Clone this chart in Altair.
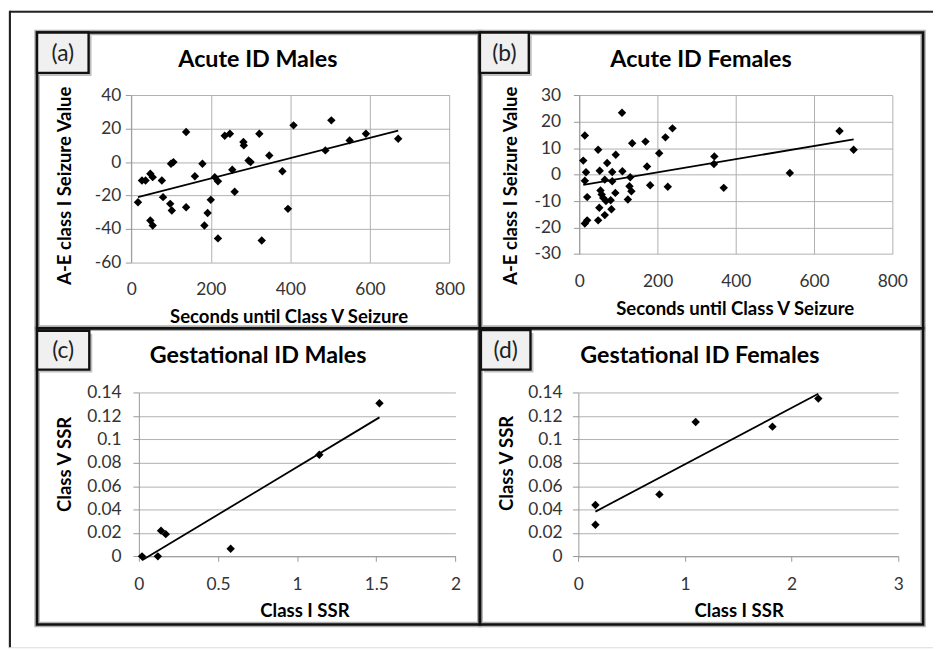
import altair as alt
import pandas as pd

# ---------------- data ----------------
# (a) Acute ID Males
a_x = [17, 27, 36, 48, 54, 77, 80, 48, 54, 98, 102, 100, 106, 138, 138, 160, 179, 184, 192, 200,
       210, 218, 218, 235, 248, 254, 260, 282, 283, 295, 300, 322, 328, 347, 380, 394, 408, 488,
       503, 549, 590, 671]
a_y = [-24, -11, -11, -7, -9, -11, -21, -35, -38, -25, -29, -1, 0, 18, -27, -8.5, -1, -38, -30.5,
       -22.6, -9, -11.5, -45.7, 15.8, 17, -4.6, -17.8, 12, 10, 1, 0, 17, -47, 4, -5.5, -28, 22, 7,
       25, 13, 17, 14]
# (b) Acute ID Females
b_x = [10, 14, 17, 14, 20, 14, 20, 48, 52, 54, 57, 61, 51, 48, 65, 71, 68, 65, 82, 84, 84, 93, 92,
       80, 109, 110, 124, 128, 133, 130, 135, 169, 173, 181, 204, 220, 226, 238, 344, 345, 369,
       538, 665, 701]
b_y = [5.3, 14.8, 0.9, -2.3, -8.5, -18.5, -17.3, 9.4, 1.5, -6, -7.5, -8.8, -12.5, -17.3, -1.9, 4.4,
       -10, -15.3, -13.1, 1, -2.5, 7.5, -6.9, -9.7, 23.4, 1.3, -9.4, -4.4, -6.3, -1, 11.9, 12.5,
       3.1, -4, 8.1, 14.1, -4.6, 17.5, 4, 6.9, -5, 0.6, 16.5, 9.4]
# (c) Gestational ID Males
c_x = [0.02, 0.12, 0.14, 0.17, 0.58, 1.14, 1.52]
c_y = [0, 0, 0.022, 0.019, 0.0065, 0.087, 0.131]
# (d) Gestational ID Females
d_x = [0.16, 0.16, 0.76, 1.10, 1.82, 2.25]
d_y = [0.044, 0.027, 0.053, 0.115, 0.111, 0.135]

acute_xticks = [0, 200, 400, 600, 800]
a_yticks = [-60, -40, -20, 0, 20, 40]
b_yticks = [-30, -20, -10, 0, 10, 20, 30]
c_xticks = [0, 0.5, 1, 1.5, 2]
d_xticks = [0, 1, 2, 3]
gest_yticks = [0, 0.02, 0.04, 0.06, 0.08, 0.1, 0.12, 0.14]

titles = ["Acute ID Males", "Acute ID Females", "Gestational ID Males", "Gestational ID Females"]
tags = ["(a)", "(b)", "(c)", "(d)"]
acute_xtitle = "Seconds until Class V Seizure"
acute_ytitle = "A-E class I Seizure Value"
gest_xtitle = "Class I SSR"
gest_ytitle = "Class V SSR"

# ---------------- styling / layout ----------------
FONT = "Lato"
W, H = 933, 642
GRID = "#b0b0b0"
AXIS = "#999999"
LABEL = "#333333"
one = pd.DataFrame({"k": [0]})


def panel(xs, ys, xdom, ydom, xr, yr, xticks, yticks, xtitle, ytitle,
          xgrid, ylabpad, xlabpad, xt_pos, yt_pos):
    df = pd.DataFrame({"x": xs, "y": ys})
    xscale = alt.Scale(domain=xdom, range=xr, nice=False, zero=False)
    yscale = alt.Scale(domain=ydom, range=yr, nice=False, zero=False)
    common_x = dict(
        values=xticks, gridColor=GRID, domainColor=AXIS, tickColor=AXIS,
        labelExpr="toString(datum.value)", labelFlush=False, labelOverlap=False,
        labelFont=FONT, labelFontSize=17.5, labelColor=LABEL, labelBaseline="top",
        title=xtitle, titleX=xt_pos[0], titleY=xt_pos[1] - yr[0], titleFont=FONT,
        titleFontSize=18.7, titleFontWeight="bold", titleColor="black",
        titleBaseline="middle", titleAlign="center")
    if xgrid:
        # vertical grid lines: a top-oriented axis placed on the plot's bottom edge
        xaxis = alt.Axis(orient="top", offset=-yr[0], grid=True, domain=False, ticks=False,
                         tickSize=0, labelPadding=-xlabpad, **common_x)
    else:
        xaxis = alt.Axis(orient="bottom", offset=yr[0] - H, grid=False, domain=True, ticks=True,
                         tickSize=5, labelPadding=xlabpad - 5, **common_x)
    yaxis = alt.Axis(
        orient="left", offset=-xr[0], values=yticks, grid=True, gridColor=GRID,
        domain=True, domainColor=AXIS, ticks=True, tickColor=AXIS, tickSize=6,
        labelPadding=ylabpad, labelExpr="toString(datum.value)", labelFlush=False,
        labelOverlap=False, labelFont=FONT, labelFontSize=17.5, labelColor=LABEL,
        title=ytitle, titleX=yt_pos[0] - xr[0], titleY=yt_pos[1], titleAngle=270,
        titleFont=FONT, titleFontSize=18.7, titleFontWeight="bold", titleColor="black",
        titleBaseline="middle", titleAlign="center")
    base = alt.Chart(df)
    enc = dict(x=alt.X("x:Q", scale=xscale, axis=xaxis), y=alt.Y("y:Q", scale=yscale, axis=yaxis))
    pts = base.mark_point(shape="diamond", filled=True, size=72, color="black", opacity=1).encode(**enc)
    reg = base.transform_regression("x", "y").mark_line(color="black", strokeWidth=1.8).encode(**enc)
    return alt.layer(pts, reg)


pa = panel(a_x, a_y, [0, 800], [-60, 40], [124.3, 445.3], [253.7, 85.3], acute_xticks, a_yticks,
           acute_xtitle, acute_ytitle, True, 4.5, 19, (283, 308.5), (57, 176))
pb = panel(b_x, b_y, [0, 800], [-30, 30], [576.3, 892], [245.3, 85.3], acute_xticks, b_yticks,
           acute_xtitle, acute_ytitle, True, 13, 19, (733, 300.3), (507, 176))
pc = panel(c_x, c_y, [0, 2], [0, 0.14], [132, 451.3], [550.3, 385.3], c_xticks, gest_yticks,
           gest_xtitle, gest_ytitle, False, 12, 19, (299, 605), (57, 457))
pd_ = panel(d_x, d_y, [0, 3], [0, 0.14], [575.3, 898], [550.3, 385.3], d_xticks, gest_yticks,
            gest_xtitle, gest_ytitle, False, 10.5, 19, (737, 605), (502.7, 456))

# ---------------- decorations ----------------
layers = []
# figure frame (top and left)
layers.append(alt.Chart(one).mark_rule(color="#222", strokeWidth=2).encode(
    x=alt.value(2), x2=alt.value(W), y=alt.value(1)))
layers.append(alt.Chart(one).mark_rule(color="#222", strokeWidth=2).encode(
    x=alt.value(2), y=alt.value(0), y2=alt.value(H)))

boxes = [(29.3, 22, 476, 320.3), (476, 22, 923, 320.3), (29.3, 320.3, 476, 619), (476, 320.3, 923, 619)]
for (x1, y1, x2, y2) in boxes:
    layers.append(alt.Chart(one).mark_rect(filled=False, fillOpacity=0, stroke="#b0b0b0",
                                           strokeWidth=5.5).encode(
        x=alt.value(x1), y=alt.value(y1), x2=alt.value(x2), y2=alt.value(y2)))
for (x1, y1, x2, y2) in boxes:
    layers.append(alt.Chart(one).mark_rect(filled=False, fillOpacity=0, stroke="#111",
                                           strokeWidth=2.6).encode(
        x=alt.value(x1), y=alt.value(y1), x2=alt.value(x2), y2=alt.value(y2)))

title_pos = [(252, 49.5), (699, 49.5), (252.3, 348), (697.8, 348)]
for t, (tx, ty) in zip(titles, title_pos):
    layers.append(alt.Chart(one).mark_text(
        text=t, font=FONT, fontSize=23.5, fontWeight="bold", color="black",
        align="center", baseline="middle").encode(x=alt.value(tx), y=alt.value(ty)))

layers += [pa, pb, pc, pd_]

tag_boxes = [(29.3, 22, 81.3, 62.7), (476, 22, 525.3, 62.7), (29.3, 322.7, 82, 362), (477, 322, 527, 362)]
for (x1, y1, x2, y2) in tag_boxes:
    layers.append(alt.Chart(one).mark_rect(fill="#8c8c8c", opacity=0.55).encode(
        x=alt.value(x1 + 3), y=alt.value(y1 + 3), x2=alt.value(x2 + 3), y2=alt.value(y2 + 3)))
    layers.append(alt.Chart(one).mark_rect(fill="#f0f0f0", stroke="#111", strokeWidth=2.4).encode(
        x=alt.value(x1), y=alt.value(y1), x2=alt.value(x2), y2=alt.value(y2)))
for t, (x1, y1, x2, y2) in zip(tags, tag_boxes):
    layers.append(alt.Chart(one).mark_text(
        text=t, font=FONT, fontSize=23, color="#222", align="center", baseline="middle").encode(
        x=alt.value((x1 + x2) / 2), y=alt.value((y1 + y2) / 2 + 1)))

chart = alt.layer(*layers).resolve_scale(x="independent", y="independent").resolve_axis(
    x="independent", y="independent"
).properties(
    width=W, height=H, autosize=alt.AutoSizeParams(type="none"), padding=0
).configure_view(stroke=None).configure(background="white")

chart.save("out.html", embed_options={"renderer": "svg", "actions": False})
